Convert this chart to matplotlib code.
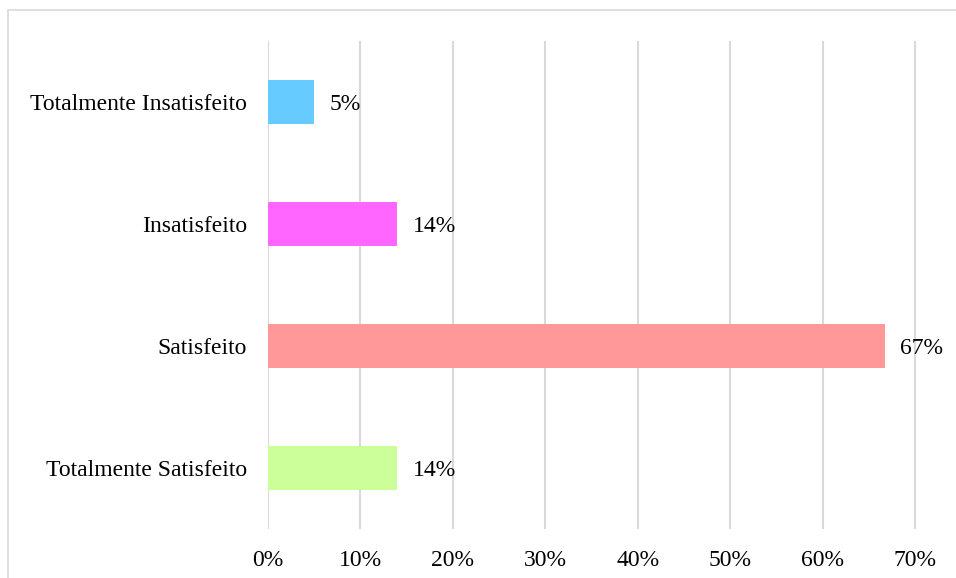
import matplotlib.pyplot as plt
from matplotlib.patches import Rectangle
from matplotlib.ticker import FuncFormatter

# satisfaction levels, bottom to top
categories = ["Totalmente Satisfeito", "Satisfeito", "Insatisfeito", "Totalmente Insatisfeito"]
shares = [14, 66.7, 14, 5]
colors = ["#ccff99", "#ff9999", "#ff66ff", "#66ccff"]
xticks = [0, 10, 20, 30, 40, 50, 60, 70]

plt.rcParams["font.family"] = ["Liberation Serif", "DejaVu Serif"]
plt.rcParams["font.size"] = 17

fig = plt.figure(figsize=(9.56, 5.78), dpi=100)
ax = fig.add_axes([0.2803, 0.0848, 0.6789, 0.8443])

# thin frame around the chart area
fig.patches.append(Rectangle((0.0084, -0.5), 1.5, 1.4827, transform=fig.transFigure,
                             fill=False, edgecolor="#d9d9d9", linewidth=1.2))

ypos = range(len(categories))
ax.barh(ypos, shares, height=0.36, color=colors, zorder=3)
for y, v in zip(ypos, shares):
    ax.text(v + 1.7, y, f"{v:.0f}%", va="center_baseline", ha="left")

ax.set_xlim(0, 70.2)
ax.set_ylim(-0.5, 3.5)
ax.set_xticks(xticks)
ax.xaxis.set_major_formatter(FuncFormatter(lambda x, _: f"{x:.0f}%"))
ax.set_yticks(list(ypos))
ax.set_yticklabels(categories)
ax.tick_params(axis="both", length=0)
ax.tick_params(axis="x", pad=15)
ax.tick_params(axis="y", pad=15)
ax.grid(axis="x", color="#d9d9d9", linewidth=1.5, zorder=0)
for s in ax.spines.values():
    s.set_visible(False)

fig.savefig("out.png", dpi=100)
